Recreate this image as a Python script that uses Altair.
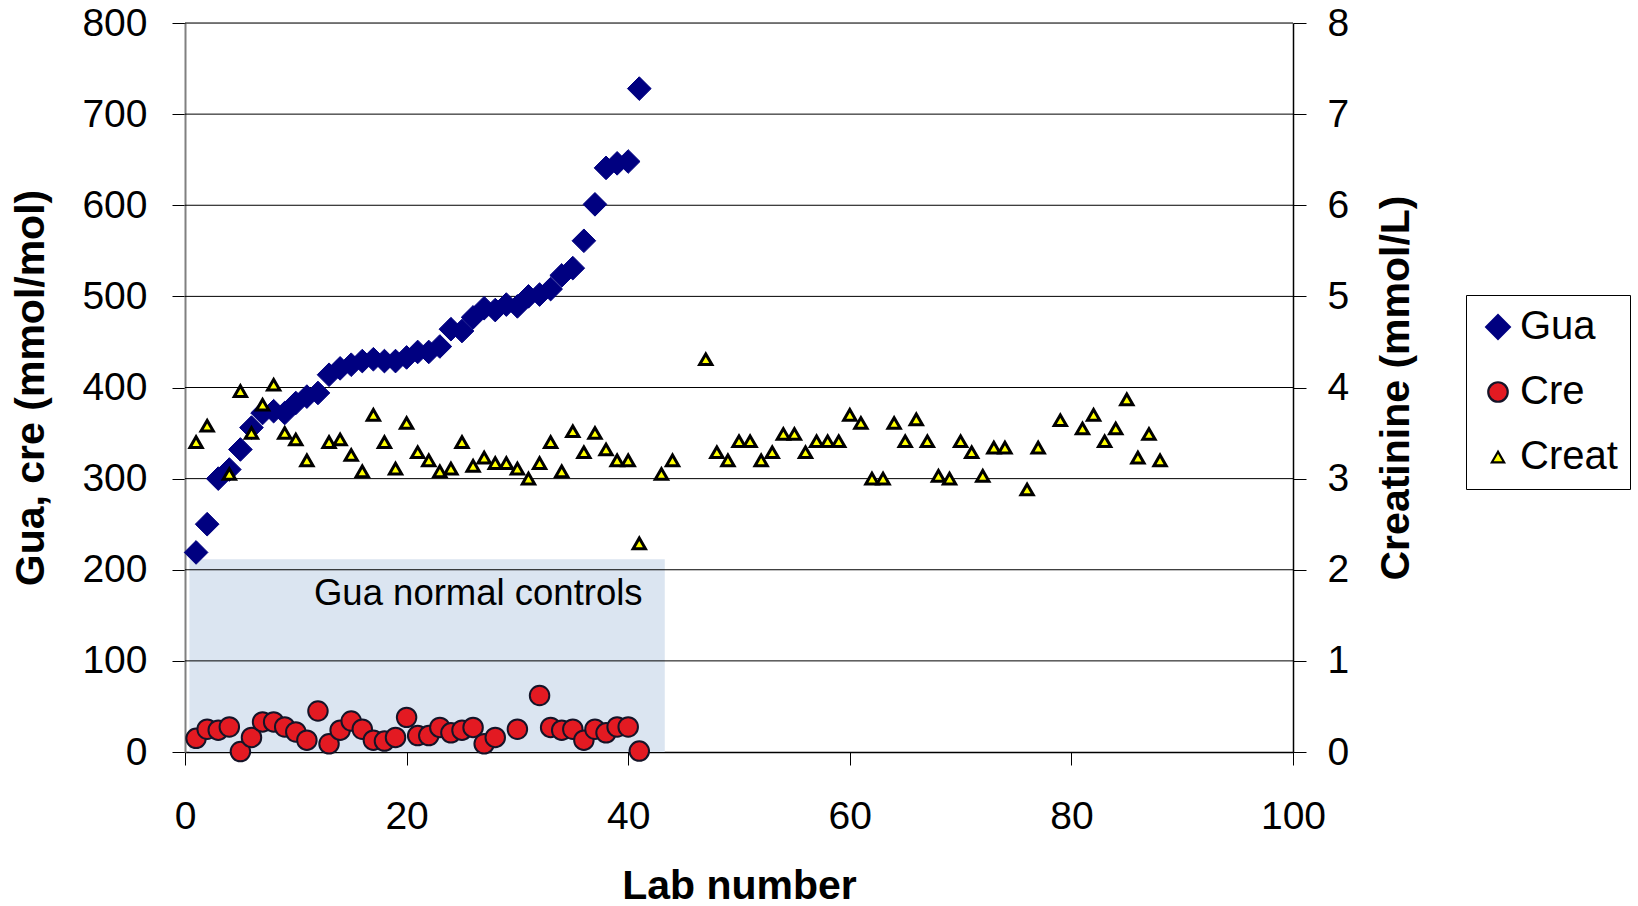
import altair as alt
import pandas as pd

# ---------------- data ----------------
GUA_LAB = list(range(1, 42))
GUA_VAL = [219, 250, 300, 310, 332, 356, 372, 374, 372, 383,
           390, 394, 414, 421, 425, 429, 431, 429, 429, 433,
           439, 439, 445, 464, 462, 477, 487, 485, 491, 489,
           500, 502, 508, 523, 531, 561, 601, 641, 646, 648,
           728]

CRE_LAB = [1, 2, 3, 4, 5, 6, 7, 8, 9, 10,
           11, 12, 13, 14, 15, 16, 17, 18, 19, 20,
           21, 22, 23, 24, 25, 26, 27, 28, 30, 32,
           33, 34, 35, 36, 37, 38, 39, 40, 41]
CRE_VAL = [15, 25, 24, 27.5, 0.5, 16, 33, 33, 27.5, 22,
           13, 45, 9, 24, 34, 25, 13, 12, 16, 38,
           18, 18, 27, 21, 24, 27, 9, 16, 25, 62,
           27, 24, 25, 13, 25, 21, 27.5, 27.5, 1]

CREAT_LAB = [1, 2, 4, 5, 6, 7, 8, 9, 10, 11,
             13, 14, 15, 16, 17, 18, 19, 20, 21, 22,
             23, 24, 25, 26, 27, 28, 29, 30, 31, 32,
             33, 34, 35, 36, 37, 38, 39, 40, 41, 43,
             44, 47, 48, 49, 50, 51, 52, 53, 54, 55,
             56, 57, 58, 59, 60, 61, 62, 63, 64, 65,
             66, 67, 68, 69, 70, 71, 72, 73, 74, 76,
             77, 79, 81, 82, 83, 84, 85, 86, 87, 88]
CREAT_VAL = [3.40, 3.58, 3.05, 3.96, 3.50, 3.81, 4.03, 3.50, 3.43, 3.20,
             3.40, 3.43, 3.26, 3.08, 3.70, 3.40, 3.11, 3.61, 3.29, 3.20,
             3.08, 3.11, 3.40, 3.14, 3.23, 3.17, 3.17, 3.11, 3.00, 3.17,
             3.40, 3.08, 3.52, 3.29, 3.50, 3.32, 3.20, 3.20, 2.29, 3.05,
             3.20, 4.31, 3.29, 3.20, 3.41, 3.41, 3.20, 3.29, 3.49, 3.49,
             3.29, 3.41, 3.41, 3.41, 3.70, 3.61, 3.00, 3.00, 3.61, 3.41,
             3.65, 3.41, 3.03, 3.00, 3.41, 3.29, 3.03, 3.34, 3.34, 2.88,
             3.34, 3.64, 3.55, 3.70, 3.41, 3.55, 3.87, 3.23, 3.49, 3.20]

SERIES = ["Gua", "Cre", "Creat"]
SERIES_FILL = ["#000080", "#e31a22", "#ffff00"]
SERIES_STROKE = ["#000080", "#141428", "#000000"]
SERIES_SHAPE = ["diamond", "circle", "triangle-up"]
SERIES_SIZE = [560, 380, 150]
SERIES_STROKE_W = [1, 2, 3]

X_TICKS = [0, 20, 40, 60, 80, 100]
LEFT_TICKS = [0, 100, 200, 300, 400, 500, 600, 700, 800]
RIGHT_TICKS = [0, 1, 2, 3, 4, 5, 6, 7, 8]
GRID_VALUES = [100, 200, 300, 400, 500, 600, 700, 800]

BAND_X = [0.4, 43.3]
BAND_Y = [0, 211.5]
BAND_LABEL = ["Gua normal controls"]
BAND_LABEL_X = [41.3]
BAND_LABEL_Y = [161.3]

FONT = "Liberation Sans"

# ---------------- tables ----------------
gua_df = pd.DataFrame({"lab": GUA_LAB, "value": GUA_VAL, "series": "Gua"})
cre_df = pd.DataFrame({"lab": CRE_LAB, "value": CRE_VAL, "series": "Cre"})
creat_df = pd.DataFrame({"lab": CREAT_LAB, "creat": CREAT_VAL, "series": "Creat"})
band_df = pd.DataFrame({"x0": [BAND_X[0]], "x1": [BAND_X[1]],
                        "y0": [BAND_Y[0]], "y1": [BAND_Y[1]]})
label_df = pd.DataFrame({"tx": BAND_LABEL_X, "ty": BAND_LABEL_Y, "text": BAND_LABEL})
grid_df = pd.DataFrame({"g": GRID_VALUES})

# ---------------- scales / axes ----------------
x_scale = alt.Scale(domain=[0, 100], nice=False, zero=False)
x_axis = alt.Axis(values=X_TICKS, grid=False, tickSize=13, tickColor="black",
                  domainColor="black", domainWidth=1.5, labelFontSize=39,
                  labelColor="black", labelPadding=32, labelFlush=False,
                  labelOverlap=False, titleFontSize=41, titleFontWeight="bold",
                  titleColor="black", titleX=554, titleY=146,
                  titleBaseline="alphabetic", titleAlign="center")
XT = "Lab number"

yl_scale = alt.Scale(domain=[0, 800], nice=False, zero=False)
yl_axis = alt.Axis(values=LEFT_TICKS, grid=False, tickSize=13, tickColor="black",
                   domainColor="#808080", domainWidth=2, labelFontSize=39,
                   labelColor="black", labelPadding=25, labelFlush=False,
                   labelOverlap=False, titleFontSize=41, titleFontWeight="bold",
                   titleColor="black", titleX=-141.5, titleY=364.5, titleAngle=270,
                   titleBaseline="alphabetic", titleAlign="center")
YLT = "Gua, cre (mmol/mol)"

yr_scale = alt.Scale(domain=[0, 8], nice=False, zero=False)
yr_axis = alt.Axis(orient="right", values=RIGHT_TICKS, grid=False, tickSize=13,
                   tickColor="black", domainColor="black", domainWidth=1.5,
                   labelFontSize=39, labelColor="black", labelPadding=21,
                   labelFlush=False, labelOverlap=False, titleFontSize=41,
                   titleFontWeight="bold", titleColor="black", titleX=115,
                   titleY=364.5, titleAngle=270, titleBaseline="alphabetic",
                   titleAlign="center")
YRT = "Creatinine (mmol/L)"

legend = alt.Legend(orient="none", legendX=1281, legendY=272, title=None,
                    strokeColor="black", fillColor="white", padding=12,
                    labelFontSize=40, labelFont=FONT, labelColor="black",
                    rowPadding=25, labelOffset=2, symbolStrokeWidth=2.2)


def series_enc():
    return dict(
        fill=alt.Fill("series:N", scale=alt.Scale(domain=SERIES, range=SERIES_FILL), legend=legend),
        stroke=alt.Stroke("series:N", scale=alt.Scale(domain=SERIES, range=SERIES_STROKE), legend=legend),
        shape=alt.Shape("series:N", scale=alt.Scale(domain=SERIES, range=SERIES_SHAPE), legend=legend),
        size=alt.Size("series:N", scale=alt.Scale(type="ordinal", domain=SERIES, range=SERIES_SIZE), legend=legend),
    )


band = alt.Chart(band_df).mark_rect(color="#dbe5f1").encode(
    x=alt.X("x0:Q", scale=x_scale, axis=x_axis, title=XT), x2="x1:Q",
    y=alt.Y("y0:Q", scale=yl_scale, axis=yl_axis, title=YLT), y2="y1:Q",
)

grid = alt.Chart(grid_df).mark_rule(color="black", strokeWidth=1).encode(
    y=alt.Y("g:Q", scale=yl_scale, axis=yl_axis, title=YLT),
)

label = alt.Chart(label_df).mark_text(align="right", baseline="alphabetic",
                                      fontSize=36.5, font=FONT, color="black").encode(
    x=alt.X("tx:Q", scale=x_scale, axis=x_axis, title=XT),
    y=alt.Y("ty:Q", scale=yl_scale, axis=yl_axis, title=YLT),
    text="text:N",
)

gua = alt.Chart(gua_df).mark_point(filled=True, opacity=1, strokeWidth=SERIES_STROKE_W[0]).encode(
    x=alt.X("lab:Q", scale=x_scale, axis=x_axis, title=XT),
    y=alt.Y("value:Q", scale=yl_scale, axis=yl_axis, title=YLT),
    **series_enc(),
)

cre = alt.Chart(cre_df).mark_point(filled=True, opacity=1, strokeWidth=SERIES_STROKE_W[1]).encode(
    x=alt.X("lab:Q", scale=x_scale, axis=x_axis, title=XT),
    y=alt.Y("value:Q", scale=yl_scale, axis=yl_axis, title=YLT),
    **series_enc(),
)

left = alt.layer(band, grid, label, gua, cre)

creat = alt.Chart(creat_df).mark_point(filled=True, opacity=1, strokeWidth=SERIES_STROKE_W[2]).encode(
    x=alt.X("lab:Q", scale=x_scale, axis=x_axis, title=XT),
    y=alt.Y("creat:Q", scale=yr_scale, axis=yr_axis, title=YRT),
    **series_enc(),
)

chart = alt.layer(left, creat).resolve_scale(y="independent").properties(
    width=1108, height=729,
    padding={"left": 185, "top": 23, "right": 345, "bottom": 154},
    autosize=alt.AutoSizeParams(type="none"),
).configure_view(stroke=None).configure_axis(
    labelFont=FONT, titleFont=FONT
).configure(background="white")

chart.save("out.html", embed_options={"renderer": "svg", "actions": False})
